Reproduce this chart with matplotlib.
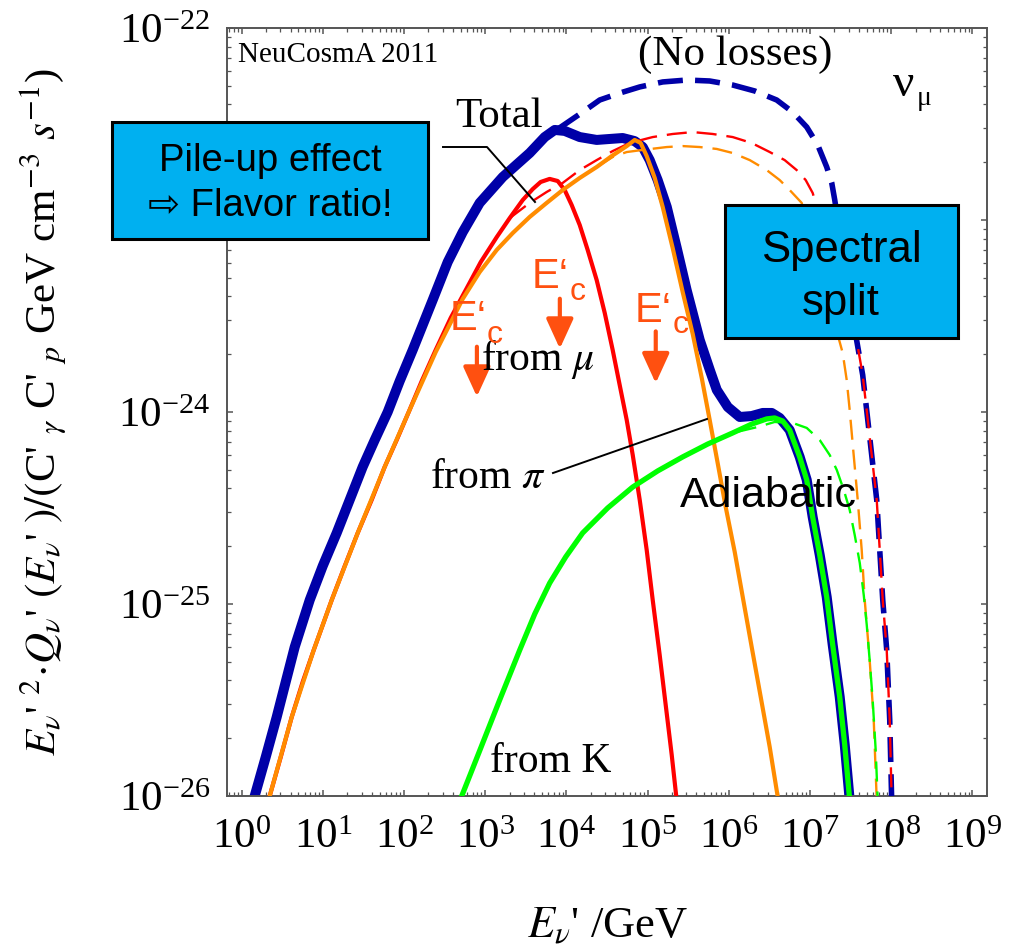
import matplotlib
matplotlib.use("Agg")
import matplotlib.pyplot as plt
import numpy as np
from matplotlib.lines import Line2D
from matplotlib.patches import Rectangle
from matplotlib.ticker import LogLocator, NullFormatter

W, H = 1017, 947

BLUE = "#0000A8"
RED = "#FF0000"
ORANGE = "#FF8C00"
GREEN = "#00FF00"
CUT = "#FF5010"
BOX = "#00B0F0"
SERIF = ["Liberation Serif", "DejaVu Serif"]
SANS = ["Liberation Sans", "DejaVu Sans"]

# log10(E'/GeV) and log10(E'^2 Q') along each curve
total_lx = [0.161, 0.297, 0.432, 0.543, 0.654, 0.839, 0.999, 1.171, 1.331, 1.491, 1.639,
            1.799, 1.947, 2.107, 2.230, 2.353, 2.538, 2.723, 2.932, 3.216, 3.548, 3.733,
            3.856, 3.979, 4.164, 4.373, 4.533, 4.693, 4.841, 4.940, 5.026, 5.124, 5.236,
            5.359, 5.481, 5.642, 5.766, 5.852, 5.988, 6.135, 6.282, 6.418, 6.529, 6.627,
            6.750, 6.873, 6.960, 7.033, 7.120, 7.206, 7.280, 7.366, 7.428, 7.489]
total_ly = [-26.0, -25.797, -25.589, -25.406, -25.224, -24.979, -24.802, -24.630, -24.458,
            -24.286, -24.146, -24.0, -23.839, -23.677, -23.547, -23.417, -23.219, -23.063,
            -22.911, -22.776, -22.651, -22.568, -22.531, -22.536, -22.568, -22.583, -22.578,
            -22.573, -22.589, -22.620, -22.688, -22.792, -22.932, -23.146, -23.365, -23.625,
            -23.781, -23.885, -23.974, -24.026, -24.021, -24.005, -24.005, -24.031, -24.094,
            -24.234, -24.354, -24.547, -24.745, -24.964, -25.214, -25.484, -25.734, -26.021]

noloss_lx = [3.548, 3.733, 4.003, 4.200, 4.410, 4.656, 4.903, 5.186, 5.481, 5.764, 6.048,
             6.319, 6.590, 6.787, 6.960, 7.095, 7.206, 7.268, 7.305, 7.574, 7.649, 7.698,
             7.760, 7.822, 7.859, 7.896, 7.945, 7.982, 8.006]
noloss_ly = [-22.651, -22.573, -22.495, -22.438, -22.375, -22.339, -22.307, -22.281, -22.271,
             -22.276, -22.297, -22.328, -22.375, -22.438, -22.516, -22.609, -22.724, -22.807,
             -22.896, -23.625, -23.807, -23.990, -24.224, -24.458, -24.719, -24.979, -25.240,
             -25.604, -26.021]

mu_lx = [0.346, 0.482, 0.617, 0.752, 0.888, 1.110, 1.270, 1.430, 1.602, 1.762, 1.910, 2.058,
         2.218, 2.390, 2.575, 2.760, 2.945, 3.142, 3.302, 3.462, 3.585, 3.683, 3.794, 3.893,
         3.979, 4.065, 4.164, 4.262, 4.373, 4.472, 4.570, 4.656, 4.743, 4.817, 4.903, 4.989,
         5.063, 5.149, 5.223, 5.297, 5.358]
mu_ly = [-26.0, -25.797, -25.589, -25.406, -25.240, -24.979, -24.802, -24.630, -24.458,
         -24.286, -24.146, -24.0, -23.839, -23.677, -23.510, -23.365, -23.219, -23.089,
         -22.990, -22.896, -22.839, -22.802, -22.786, -22.797, -22.844, -22.922, -23.026,
         -23.156, -23.313, -23.484, -23.677, -23.859, -24.042, -24.224, -24.458, -24.719,
         -24.979, -25.266, -25.526, -25.786, -26.021]

mu_noloss_lx = [3.302, 3.548, 3.757, 3.954, 4.164, 4.373, 4.570, 4.779, 5.063, 5.309, 5.556,
                5.802, 6.048, 6.282, 6.504, 6.688, 6.836, 6.947, 7.033, 7.574, 7.649, 7.698,
                7.760, 7.822, 7.859, 7.896, 7.945, 7.982, 8.006]
mu_noloss_ly = [-22.990, -22.911, -22.854, -22.807, -22.740, -22.688, -22.641, -22.599,
                -22.568, -22.552, -22.542, -22.552, -22.568, -22.599, -22.646, -22.688,
                -22.740, -22.792, -22.859, -23.625, -23.807, -23.990, -24.224, -24.458,
                -24.719, -24.979, -25.240, -25.604, -26.021]

pi_lx = [0.346, 0.617, 0.888, 1.110, 1.430, 1.762, 2.058, 2.390, 2.723, 2.932, 3.142, 3.339,
         3.548, 3.757, 3.954, 4.164, 4.373, 4.558, 4.743, 4.841, 4.915, 4.989, 5.088, 5.186,
         5.309, 5.432, 5.556, 5.667, 5.765, 5.863, 5.962, 6.073, 6.172, 6.282, 6.393, 6.504,
         6.603]
pi_ly = [-26.0, -25.589, -25.240, -24.979, -24.630, -24.286, -24.0, -23.688, -23.411, -23.271,
         -23.156, -23.068, -22.984, -22.911, -22.844, -22.781, -22.724, -22.667, -22.615,
         -22.583, -22.599, -22.667, -22.781, -22.932, -23.146, -23.375, -23.594, -23.823,
         -24.042, -24.266, -24.495, -24.729, -24.964, -25.224, -25.484, -25.745, -26.005]

pi_noloss_lx = [4.373, 4.570, 4.743, 4.940, 5.236, 5.432, 5.642, 5.852, 6.048, 6.258, 6.467,
                6.627, 6.750, 6.898, 7.403, 7.452, 7.489, 7.538, 7.588, 7.637, 7.674, 7.735,
                7.785, 7.822]
pi_noloss_ly = [-22.724, -22.672, -22.646, -22.635, -22.620, -22.615, -22.620, -22.630,
                -22.651, -22.688, -22.740, -22.792, -22.844, -22.911, -23.693, -23.833,
                -23.990, -24.224, -24.458, -24.719, -24.979, -25.292, -25.604, -26.021]

k_lx = [2.711, 2.945, 3.178, 3.425, 3.610, 3.794, 3.991, 4.200, 4.508, 4.816, 5.124, 5.432,
        5.740, 6.048, 6.282, 6.467, 6.565, 6.664, 6.750, 6.873, 6.960, 7.033, 7.120, 7.206,
        7.280, 7.366, 7.428, 7.489]
k_ly = [-26.0, -25.750, -25.5, -25.240, -25.052, -24.891, -24.755, -24.630, -24.5, -24.391,
        -24.307, -24.234, -24.167, -24.109, -24.063, -24.036, -24.031, -24.047, -24.094,
        -24.234, -24.354, -24.547, -24.745, -24.964, -25.214, -25.484, -25.734, -26.021]

k_noloss_lx = [6.097, 6.356, 6.565, 6.787, 6.960, 7.120, 7.243, 7.330, 7.416, 7.489, 7.551,
               7.613, 7.662, 7.699, 7.735, 7.772, 7.809, 7.834]
k_noloss_ly = [-24.104, -24.078, -24.052, -24.057, -24.083, -24.146, -24.224, -24.302,
               -24.406, -24.510, -24.641, -24.786, -24.953, -25.109, -25.292, -25.5, -25.760,
               -26.021]

# E'_c markers: energy and arrow span (log10 of the y quantity)
cut_energy = [7.9e2, 8.3e3, 1.26e5]
cut_top = [-23.66, -23.41, -23.58]
cut_bottom = [-23.92, -23.67, -23.85]

plt.rcParams["font.family"] = SERIF
plt.rcParams["mathtext.fontset"] = "stix"


def fxy(px, py):
    return px / W, 1 - py / H


def curve(lx, ly):
    return 10.0 ** np.array(lx), 10.0 ** np.array(ly)


fig = plt.figure(figsize=(W / 100, H / 100), dpi=100)
ax = fig.add_axes([227 / W, 1 - 796 / H, 760 / W, 768 / H])

ax.plot(*curve(total_lx, total_ly), color=BLUE, lw=7.2, solid_joinstyle="round", zorder=2)
ax.plot(*curve(noloss_lx, noloss_ly), color=BLUE, lw=4, dashes=(4.5, 2.2), zorder=3)
ax.plot(*curve(mu_noloss_lx, mu_noloss_ly), color=RED, lw=1.7, dashes=(8.5, 4.2), zorder=4)
ax.plot(*curve(pi_noloss_lx, pi_noloss_ly), color=ORANGE, lw=1.7, dashes=(8.5, 4.2), zorder=4)
ax.plot(*curve(k_noloss_lx, k_noloss_ly), color=GREEN, lw=1.7, dashes=(8.5, 4.2), zorder=4)
ax.plot(*curve(mu_lx, mu_ly), color=RED, lw=3, solid_joinstyle="round", zorder=5)
ax.plot(*curve(pi_lx, pi_ly), color=ORANGE, lw=3, solid_joinstyle="round", zorder=5)
ax.plot(*curve(k_lx, k_ly), color=GREEN, lw=3.8, solid_joinstyle="round", zorder=5)

for e, top, bot in zip(cut_energy, cut_top, cut_bottom):
    ax.annotate("", xy=(e, 10.0 ** bot), xytext=(e, 10.0 ** top),
                arrowprops=dict(arrowstyle="-|>,head_length=0.7,head_width=0.32",
                                color=CUT, lw=3, mutation_scale=26, shrinkA=0, shrinkB=0),
                zorder=6)

ax.set_xscale("log")
ax.set_yscale("log")
ax.set_xlim(10 ** -0.18, 10 ** 9.18)
ax.set_ylim(1e-26, 1e-22)
ax.xaxis.set_major_locator(LogLocator(base=10, numticks=20))
ax.xaxis.set_minor_locator(LogLocator(base=10, subs=np.arange(2, 10), numticks=20))
ax.yaxis.set_minor_locator(LogLocator(base=10, subs=np.arange(2, 10), numticks=20))
ax.xaxis.set_minor_formatter(NullFormatter())
ax.yaxis.set_minor_formatter(NullFormatter())

for s in ax.spines.values():
    s.set_color("#555555")
    s.set_linewidth(1.4)
ax.tick_params(which="both", direction="in", top=True, right=True, color="#555555",
               labelsize=31)
ax.tick_params(which="major", length=4.5, width=1.1)
ax.tick_params(which="minor", length=2.6, width=0.9)
ax.tick_params(axis="x", which="major", pad=16)
ax.tick_params(axis="y", which="major", pad=12)

ax.set_xlabel("$E_\\nu$' /GeV", fontsize=32)
ax.xaxis.set_label_coords(0.5, -0.142)
ax.set_ylabel("$E_\\nu$' $^2\\!\\cdot\\!Q_\\nu$' $(E_\\nu$' $)/($C' $_\\gamma$ C' $_p$ "
              "GeV cm$^{-3}$ $s^{-1}$)", fontsize=31)
ax.yaxis.set_label_coords(-0.208, 0.5)

# plain labels on the plot
fig.text(*fxy(238, 62), "NeuCosmA 2011", fontsize=21, va="baseline")
fig.text(*fxy(638, 65), "(No losses)", fontsize=31, va="baseline")
fig.text(*fxy(455, 127), "Total", fontsize=31, va="baseline")
fig.text(*fxy(893, 96), "ν", fontsize=34, va="baseline")
fig.text(*fxy(917, 105), "μ", fontsize=20, va="baseline")
fig.text(*fxy(481, 370), "from $\\mu$", fontsize=30, va="baseline")
fig.text(*fxy(430, 488), "from $\\pi$", fontsize=30, va="baseline")
fig.text(*fxy(490, 772), "from K", fontsize=30, va="baseline")
fig.text(*fxy(680, 507), "Adiabatic", fontsize=31, va="baseline", family=SANS)

for ex, ey, cx, cy in [(450, 330, 487, 343), (532, 288, 570, 300), (635, 322, 673, 333)]:
    fig.text(*fxy(ex, ey), "E\u2018", fontsize=30, va="baseline", color=CUT, family=SANS)
    fig.text(*fxy(cx, cy), "c", fontsize=23, va="baseline", color=CUT, family=SANS)

# leader lines
fig.add_artist(Line2D([443 / W, 487 / W, 535 / W], [1 - 147 / H, 1 - 147 / H, 1 - 202 / H],
                      color="black", lw=1.4, transform=fig.transFigure))
fig.add_artist(Line2D([553 / W, 707 / W], [1 - 473 / H, 1 - 419 / H],
                      color="black", lw=1.4, transform=fig.transFigure))

# callout boxes
fig.add_artist(Rectangle(fxy(112, 239), 316 / W, 117 / H, transform=fig.transFigure,
                         facecolor=BOX, edgecolor="black", lw=2.2, zorder=5))
fig.text(*fxy(270, 171), "Pile-up effect", fontsize=27.5, ha="center", va="baseline",
         family=SANS, zorder=6)
fig.text(*fxy(270, 216), "\u21e8 Flavor ratio!", fontsize=27.5, ha="center", va="baseline",
         family=SANS, zorder=6)

fig.add_artist(Rectangle(fxy(725, 338), 233 / W, 133 / H, transform=fig.transFigure,
                         facecolor=BOX, edgecolor="black", lw=2.2, zorder=5))
fig.text(*fxy(841, 262), "Spectral", fontsize=31.5, ha="center", va="baseline",
         family=SANS, zorder=6)
fig.text(*fxy(841, 315), "split", fontsize=31.5, ha="center", va="baseline",
         family=SANS, zorder=6)

fig.savefig("out.png", dpi=100)
